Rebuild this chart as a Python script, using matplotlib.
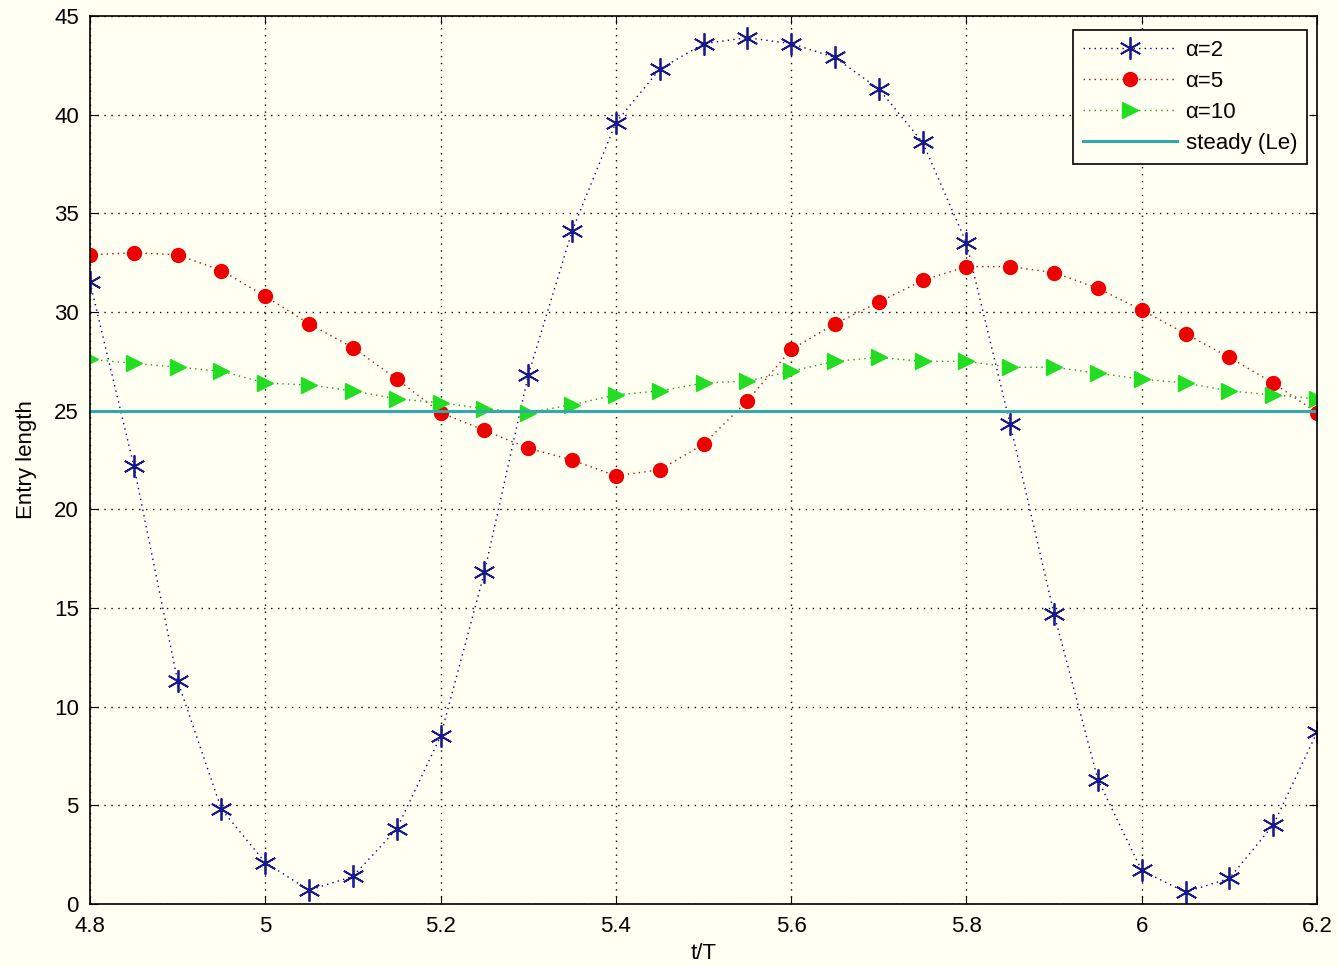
import numpy as np
import matplotlib
matplotlib.use("Agg")
import matplotlib.pyplot as plt

plt.rcParams['font.family'] = ['Liberation Sans', 'DejaVu Sans']

t = [4.8, 4.85, 4.9, 4.95, 5.0, 5.05, 5.1, 5.15, 5.2, 5.25, 5.3, 5.35, 5.4, 5.45,
     5.5, 5.55, 5.6, 5.65, 5.7, 5.75, 5.8, 5.85, 5.9, 5.95, 6.0, 6.05, 6.1, 6.15, 6.2]

alpha2 = [31.5, 22.2, 11.3, 4.8, 2.1, 0.7, 1.4, 3.8, 8.5, 16.8, 26.8, 34.1, 39.6, 42.3,
          43.6, 43.9, 43.6, 42.9, 41.3, 38.6, 33.5, 24.3, 14.7, 6.3, 1.7, 0.6, 1.3, 4.0, 8.7]

alpha5 = [32.9, 33.0, 32.9, 32.1, 30.8, 29.4, 28.2, 26.6, 24.9, 24.0, 23.1, 22.5, 21.7, 22.0,
          23.3, 25.5, 28.1, 29.4, 30.5, 31.6, 32.3, 32.3, 32.0, 31.2, 30.1, 28.9, 27.7, 26.4, 24.9]

alpha10 = [27.6, 27.4, 27.2, 27.0, 26.4, 26.3, 26.0, 25.6, 25.4, 25.1, 24.9, 25.3, 25.8, 26.0,
           26.4, 26.5, 27.0, 27.5, 27.7, 27.5, 27.5, 27.2, 27.2, 26.9, 26.6, 26.4, 26.0, 25.8, 25.6]

steady_le = 25.0

labels = ["\u03b1=2", "\u03b1=5", "\u03b1=10", "steady (Le)"]
xticks = [4.8, 5.0, 5.2, 5.4, 5.6, 5.8, 6.0, 6.2]
xticklabels = ["4.8", "5", "5.2", "5.4", "5.6", "5.8", "6", "6.2"]
yticks = [0, 5, 10, 15, 20, 25, 30, 35, 40, 45]

bg = "#FFFFF2"
fig = plt.figure(figsize=(13.38, 9.66), dpi=100, facecolor=bg)
ax = fig.add_axes([90/1338, 1 - 904/966, (1317-90)/1338, (904-16)/966])
ax.set_facecolor(bg)

dot = (0, (1, 3))
ax.plot(t, alpha2, linestyle=dot, color="#000080", lw=1.0, marker=(6, 2, 0),
        markersize=16, markeredgewidth=1.3, markeredgecolor="#1a1a90", label=labels[0])
ax.plot(t, alpha5, linestyle=dot, color="#CC0000", lw=1.0, marker="o",
        markersize=10, markerfacecolor="#EE0000", markeredgecolor="#EE0000", label=labels[1])
ax.plot(t, alpha10, linestyle=dot, color="#229922", lw=1.0, marker=">",
        markersize=12, markerfacecolor="#22DD22", markeredgecolor="#22DD22", label=labels[2])
ax.plot([t[0], t[-1]], [steady_le, steady_le], color="#33AAAA", lw=2.2, label=labels[3])

ax.set_xlim(4.8, 6.2)
ax.set_ylim(0, 45)
ax.set_xticks(xticks)
ax.set_xticklabels(xticklabels)
ax.set_yticks(yticks)
ax.grid(True, color="black", linestyle=(0, (1, 4)), lw=1.0)
ax.tick_params(direction="in", length=6, labelsize=16, top=True, right=True)
ax.tick_params(axis="x", pad=9)
ax.tick_params(axis="y", pad=8)
for s in ax.spines.values():
    s.set_linewidth(1.2)
ax.set_xlabel("t/T", fontsize=16, labelpad=4)
ax.set_ylabel("Entry length", fontsize=16, labelpad=12)

leg = ax.legend(loc="upper right", fontsize=16, frameon=True, fancybox=False,
                edgecolor="black", facecolor=bg, framealpha=1,
                bbox_to_anchor=(1 - 10/1227, 1 - 14/888), borderaxespad=0,
                handlelength=4.2, labelspacing=0.45, borderpad=0.45, handletextpad=0.4)
leg.get_frame().set_linewidth(1.2)

fig.savefig("out.png", dpi=100, facecolor=bg)
